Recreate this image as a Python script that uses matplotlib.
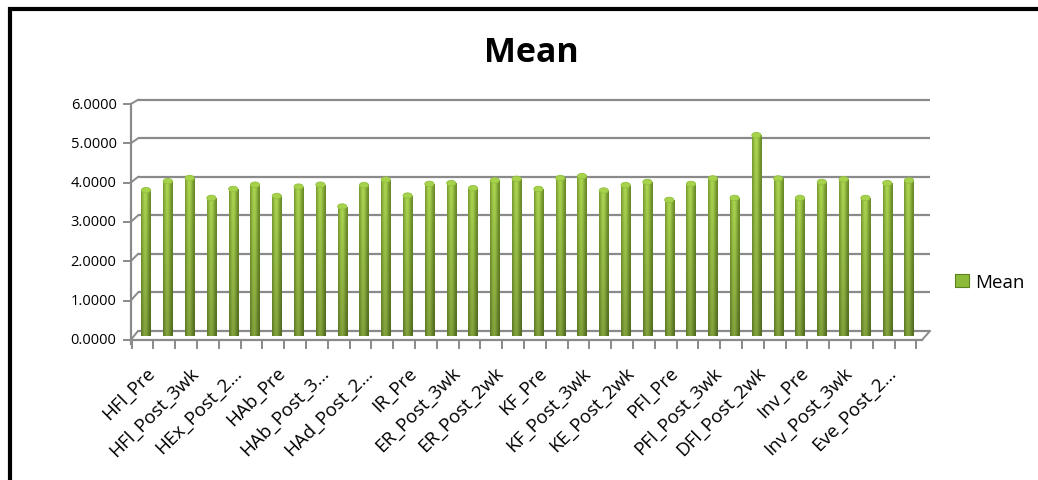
import numpy as np
import matplotlib
matplotlib.use("Agg")
import matplotlib.pyplot as plt
from matplotlib.patches import Ellipse, Patch, Rectangle

plt.rcParams['font.family'] = ['Open Sans', 'DejaVu Sans']

categories = [
    'HFl_Pre', 'HFl_Post_2wk', 'HFl_Post_3wk',
    'HEx_Pre', 'HEx_Post_2wk', 'HEx_Post_3wk',
    'HAb_Pre', 'HAb_Post_2wk', 'HAb_Post_3wk',
    'HAd_Pre', 'HAd_Post_2wk', 'HAd_Post_3wk',
    'IR_Pre', 'ER_Pre', 'ER_Post_3wk',
    'IR_Post_3wk', 'ER_Post_2wk', 'IR_Post_2wk',
    'KF_Pre', 'KF_Post_2wk', 'KF_Post_3wk',
    'KE_Pre', 'KE_Post_2wk', 'KE_Post_3wk',
    'PFl_Pre', 'PFl_Post_2wk', 'PFl_Post_3wk',
    'DFl_Pre', 'DFl_Post_2wk', 'DFl_Post_3wk',
    'Inv_Pre', 'Inv_Post_2wk', 'Inv_Post_3wk',
    'Eve_Pre', 'Eve_Post_2wk', 'Eve_Post_3wk',
]
mean = [3.74, 3.97, 4.05, 3.54, 3.77, 3.88, 3.59, 3.83, 3.88,
        3.32, 3.87, 4.01, 3.60, 3.90, 3.92, 3.79, 3.99, 4.03,
        3.77, 4.05, 4.10, 3.73, 3.87, 3.95, 3.49, 3.90, 4.04,
        3.54, 5.15, 4.04, 3.54, 3.95, 4.02, 3.54, 3.92, 3.99]
# every second category gets a label; long ones are cut short
tick_labels = ['HFl_Pre', 'HFl_Post_3wk', 'HEx_Post_2…', 'HAb_Pre',
               'HAb_Post_3…', 'HAd_Post_2…', 'IR_Pre', 'ER_Post_3wk',
               'ER_Post_2wk', 'KF_Pre', 'KF_Post_3wk', 'KE_Post_2wk',
               'PFl_Pre', 'PFl_Post_3wk', 'DFl_Post_2wk', 'Inv_Pre',
               'Inv_Post_3wk', 'Eve_Post_2…']
y_ticks = [0, 1, 2, 3, 4, 5, 6]

W, H = 1038, 481
fig = plt.figure(figsize=(W / 100, H / 100), dpi=100)
fig.patch.set_facecolor('white')

# axes box in pixels: bar 0 centred at x=146, 21.8 px per bar, base at y=337, 39 px per unit
L, R, T, B = 120, 935, 95, 352
ax = fig.add_axes([L / W, 1 - B / H, (R - L) / W, (B - T) / H])
ax.axis('off')
xlim = ((L - 146) / 21.8, (R - 146) / 21.8)
ylim = ((337 - B) / 39, (337 - T) / 39)

GRID = '#8a8a8a'


def y_back(v):
    return 0.128 + 0.988 * v


def y_front(v):
    return -0.10 + 1.008 * v


x_back_l, x_back_r = -0.367, 35.96
x_front_l, x_front_r = -0.70, 35.6

# back wall gridlines and the little depth connectors on the left
for v in y_ticks:
    ax.plot([x_back_l, x_back_r], [y_back(v)] * 2, color=GRID, lw=1.6, zorder=1,
            solid_capstyle='butt')
    ax.plot([x_front_l, x_back_l], [y_front(v), y_back(v)], color=GRID, lw=1.4, zorder=1)
    ax.plot([x_front_l - 0.3, x_front_l], [y_front(v)] * 2, color=GRID, lw=1.4, zorder=1)
    ax.text(x_front_l - 0.65, y_front(v), f'{v:.4f}', ha='right', va='center',
            fontsize=10.5, color='black')
ax.plot([x_front_l, x_front_l], [y_front(0) - 0.1, y_front(6)], color=GRID, lw=1.6, zorder=1)

# floor edges
yf = y_front(0)
ax.plot([x_front_l, x_front_r], [yf, yf], color=GRID, lw=1.6, zorder=1)
ax.plot([x_front_r, x_back_r], [yf, y_back(0)], color=GRID, lw=1.4, zorder=1)
for k in range(len(categories) + 1):
    xt = -0.656 + k
    ax.plot([xt, xt], [yf, yf - 0.2], color=GRID, lw=1.4, zorder=1)

# cylinder shading: light stripe left of centre, darker towards the floor
xs = np.linspace(0, 1, 40)
prof = np.exp(-((xs - 0.42) / 0.38) ** 2)
light = np.array([172, 214, 80]) / 255
dark = np.array([98, 130, 36]) / 255
row = dark + (light - dark) * prof[:, None]
ys = np.linspace(0, 1, 80)[:, None, None]
shade = np.clip(row[None, :, :] * (0.76 + 0.24 * ys), 0, 1)

bw = 0.42
x = np.arange(len(categories))
bars = ax.bar(x, mean, width=bw, facecolor='none', edgecolor='none', zorder=3)
for rect, xi, v in zip(bars, x, mean):
    im = ax.imshow(shade, extent=[xi - bw / 2, xi + bw / 2, 0, v], origin='lower',
                   aspect='auto', interpolation='bilinear', zorder=3)
    im.set_clip_path(rect)
    ax.add_patch(Ellipse((xi, v), bw, 0.14, facecolor='#a6d24c', edgecolor='#92c03e',
                         lw=0.6, zorder=4))

for i, lab in zip(x[::2], tick_labels):
    ax.text(i - 0.02, (337 - 364) / 39, lab, rotation=45, rotation_mode='anchor',
            ha='right', va='top', fontsize=13.5, color='black')

ax.set_xlim(*xlim)
ax.set_ylim(*ylim)

fig.text(531 / W, 1 - 53 / H, 'Mean', ha='center', va='center', fontsize=24.5,
         fontweight='bold', color='black')

handle = Patch(facecolor='#8cbb3a', edgecolor='#5f8220', lw=0.8)
fig.legend([handle], ['Mean'], loc='center left', bbox_to_anchor=(946 / W, 1 - 283 / H),
           frameon=False, fontsize=13.5, handlelength=0.7, handleheight=0.7,
           handletextpad=0.35, borderpad=0)

# chart frame, cut off at the right and bottom edges
fig.add_artist(Rectangle((10 / W, -0.1), 1.2, 1 - 10 / H + 0.1, transform=fig.transFigure,
                         fill=False, edgecolor='black', lw=3.0))

fig.savefig('out.png', dpi=100, facecolor='white')
